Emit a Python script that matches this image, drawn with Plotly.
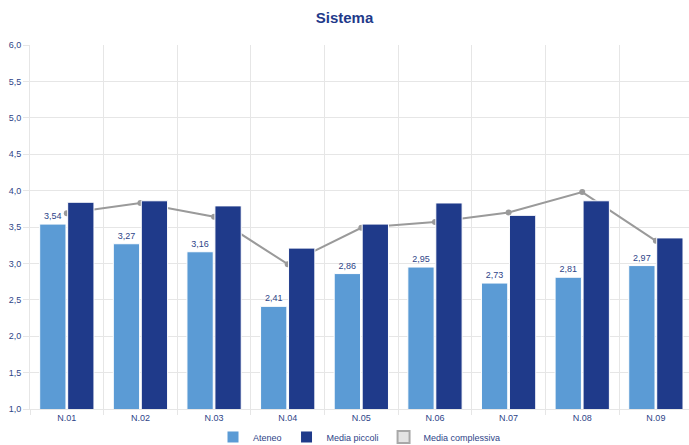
import plotly.graph_objects as go

categories = ["N.01", "N.02", "N.03", "N.04", "N.05", "N.06", "N.07", "N.08", "N.09"]
ateneo = [3.54, 3.27, 3.16, 2.41, 2.86, 2.95, 2.73, 2.81, 2.97]
media_piccoli = [3.84, 3.86, 3.79, 3.21, 3.54, 3.83, 3.66, 3.86, 3.35]
media_complessiva = [3.69, 3.83, 3.64, 2.99, 3.49, 3.57, 3.70, 3.98, 3.31]
y_ticks = [1.0, 1.5, 2.0, 2.5, 3.0, 3.5, 4.0, 4.5, 5.0, 5.5, 6.0]

FONT = "Liberation Sans, Arial, sans-serif"
TXT = "#2e4488"
LIGHT = "#5b9bd5"
DARK = "#1f3a8a"
GRID = "#e6e6e6"

fig = go.Figure()

# line on the main axes (drawn beneath the bars)
fig.add_trace(go.Scatter(
    x=categories, y=media_complessiva, name="Media complessiva",
    mode="lines+markers", line=dict(color="#9a9a9a", width=2),
    marker=dict(color="#9a9a9a", size=6), showlegend=False,
    xaxis="x", yaxis="y", hoverinfo="skip"))

# legend proxy for the line (box style), on a hidden axis so nothing is drawn
fig.add_trace(go.Bar(
    x=categories, y=media_complessiva, name="Media complessiva",
    marker=dict(color="#e4e4e4", line=dict(color="#a8a8a8", width=2)),
    xaxis="x3", yaxis="y3", legendrank=3, hoverinfo="skip"))

fig.add_trace(go.Bar(
    x=categories, y=ateneo, name="Ateneo",
    marker=dict(color=LIGHT, line=dict(color="white", width=1)),
    text=[f"{v:.2f}".replace(".", ",") for v in ateneo],
    textposition="outside", cliponaxis=False,
    textfont=dict(family=FONT, size=9, color=TXT),
    xaxis="x2", yaxis="y2", legendrank=1))

fig.add_trace(go.Bar(
    x=categories, y=media_piccoli, name="Media piccoli",
    marker=dict(color=DARK, line=dict(color="white", width=1)),
    xaxis="x2", yaxis="y2", legendrank=2))

xr = [-0.5, 8.45]
yr = [1.0, 6.0]

fig.update_layout(
    width=689, height=445,
    margin=dict(l=30, r=0, t=45, b=36),
    paper_bgcolor="white", plot_bgcolor="white",
    separators=",.",
    barmode="group", bargap=0.24, bargroupgap=0.06,
    title=dict(text="<b>Sistema</b>", x=0.5, xanchor="center", y=0.96, yanchor="middle",
               font=dict(family=FONT, size=15, color=DARK)),
    font=dict(family=FONT, size=9, color=TXT),
    showlegend=True,
    legend=dict(orientation="h", x=0.5, xanchor="center", yref="container",
                y=0.018, yanchor="middle",
                font=dict(family=FONT, size=9, color=TXT), traceorder="normal"),
    xaxis=dict(type="category", range=xr, tickson="boundaries", showgrid=True,
               gridcolor=GRID, gridwidth=1, ticks="outside", ticklen=5, tickcolor=GRID,
               showline=True, linecolor=GRID, zeroline=False, automargin=False,
               tickfont=dict(family=FONT, size=9, color=TXT)),
    yaxis=dict(range=yr, tickvals=y_ticks, tickformat=".1f", showgrid=True,
               gridcolor=GRID, ticks="outside", ticklen=6, tickcolor=GRID,
               showline=True, linecolor=GRID, zeroline=False, automargin=False,
               tickfont=dict(family=FONT, size=9, color=TXT)),
    xaxis2=dict(type="category", range=xr, overlaying="x", visible=False, showgrid=False),
    yaxis2=dict(range=yr, overlaying="y", visible=False, showgrid=False),
    xaxis3=dict(type="category", range=xr, overlaying="x", visible=False, showgrid=False),
    yaxis3=dict(range=[100, 101], overlaying="y", visible=False, showgrid=False),
)

fig.write_html("out.html", config={"displayModeBar": False},
               post_script="document.body.style.margin='0';")
